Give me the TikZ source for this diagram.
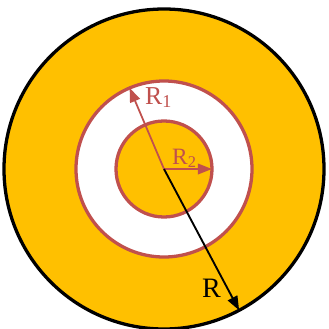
\documentclass[tikz,border=0pt]{standalone}
\usepackage{fontspec}
\setmainfont{Liberation Serif}
\usetikzlibrary{arrows.meta}
\definecolor{Ring}{HTML}{FFC000}
\definecolor{Rim}{HTML}{C0504D}
\tikzset{
ringdisk/.style={circle, draw=black, line width=2.8pt, fill=Ring, outer sep=0pt, inner sep=0pt},
holedisk/.style={circle, draw=Rim, line width=2.8pt, fill=white, outer sep=0pt, inner sep=0pt},
coredisk/.style={circle, draw=Rim, line width=2.8pt, fill=Ring, outer sep=0pt, inner sep=0pt},
rimarrow/.style={->, line width=1.5pt, draw=Rim},
radarrow/.style={->, line width=1.6pt, draw=black},
rimlabel/.style={text=Rim, anchor=base west, inner sep=0pt},
radlabel/.style={text=black, anchor=base west, inner sep=0pt}
}
\begin{document}
\begin{tikzpicture}[x=0.03cm, y=-0.03cm, >={Triangle[length=12pt, width=9pt]}]
  \useasboundingbox (0,0) rectangle (329,329);
  \coordinate (ctr) at (164,169);
  \node[ringdisk, minimum size=9.6cm] (outer) at (ctr) {};
  \node[holedisk, minimum size=5.28cm] (middle) at (ctr) {};
  \node[coredisk, minimum size=2.88cm] (inner) at (ctr) {};
  \draw[rimarrow] (ctr) -- (middle.113);
  \draw[rimarrow] (ctr) -- (inner.0);
  \draw[radarrow] (ctr) -- (outer.-62);
  \node[rimlabel, font=\fontsize{22}{26}\selectfont] (lblRone) at (145,104) {R\textsubscript{1}};
  \node[rimlabel, font=\fontsize{20}{24}\selectfont] (lblRtwo) at (172,164) {R\textsubscript{2}};
  \node[radlabel, font=\fontsize{24}{28}\selectfont] (lblR) at (202,297) {R};
\end{tikzpicture}
\end{document}
